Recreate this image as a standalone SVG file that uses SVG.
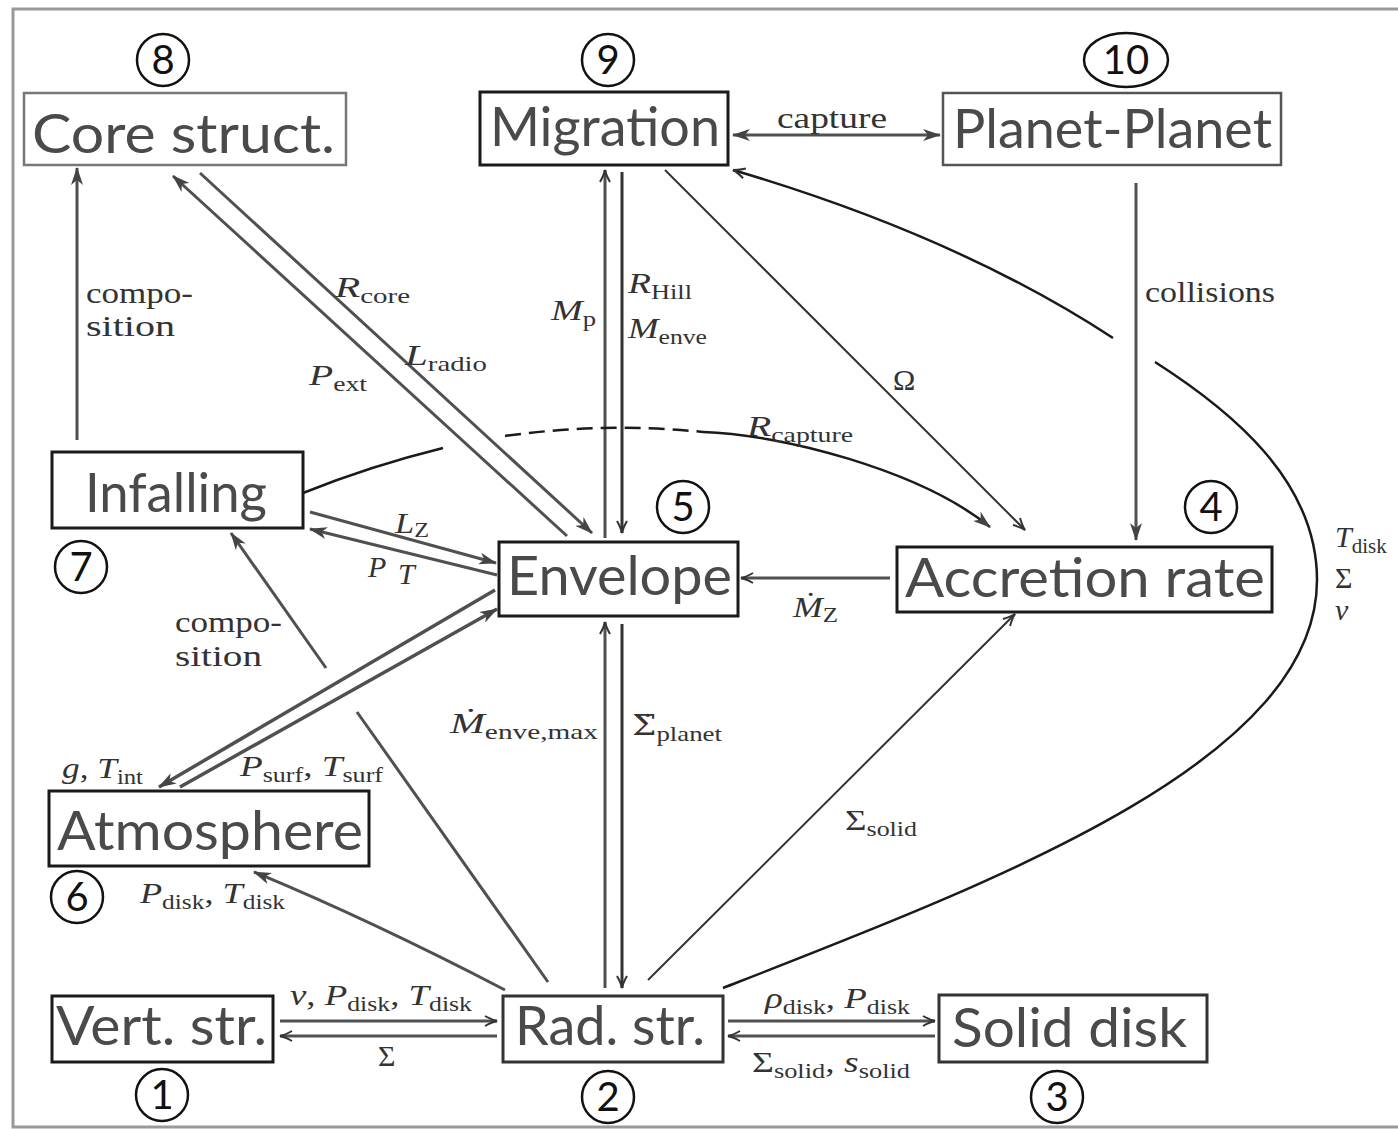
<svg xmlns="http://www.w3.org/2000/svg" width="1398" height="1129" viewBox="0 0 1398 1129">
<style>
.frame{fill:none;stroke:#999;stroke-width:3}
.box{fill:#fff;stroke:#1a1a1a;stroke-width:3}
.lbl{font-family:Lato,"Open Sans","DejaVu Sans",sans-serif;font-size:55px;fill:#4a4a4a}
.num{font-family:Lato,"Open Sans","DejaVu Sans",sans-serif;font-size:40px;fill:#111;text-anchor:middle}
.nc{fill:none;stroke:#111;stroke-width:2.5}
.t{font-family:"Liberation Serif","DejaVu Serif",serif;font-size:30px;fill:#333}
.v{font-style:italic}
.sb{font-size:21px}
.dj{font-family:"DejaVu Serif",serif;font-size:27px}
.ln{fill:none;stroke:#505050;stroke-width:3}
.th{fill:none;stroke:#333;stroke-width:2}
.bk{fill:none;stroke:#1a1a1a;stroke-width:2.5}
</style>
<defs>
<marker id="af" viewBox="0 0 18 12" refX="17" refY="6" markerWidth="18" markerHeight="12" orient="auto-start-reverse" markerUnits="userSpaceOnUse"><path d="M0,0 L18,6 L0,12 L5,6 z" fill="#444"/></marker>
<marker id="ao" viewBox="0 0 14 12" refX="13" refY="6" markerWidth="14" markerHeight="12" orient="auto-start-reverse" markerUnits="userSpaceOnUse"><path d="M1,1 Q8,5 13,6 Q8,7 1,11" fill="none" stroke="#333" stroke-width="2"/></marker>
</defs>
<rect width="1398" height="1129" fill="#fff"/>
<rect class="frame" x="13" y="9" width="1400" height="1118"/>

<g id="connectors">
<path class="ln" d="M77,440 L77,168" marker-end="url(#af)"/>
<path class="ln" d="M567,536 L173,176" marker-end="url(#af)"/>
<path class="ln" d="M200,173 L592,533" marker-end="url(#af)"/>
<path class="ln" d="M605,538 L605,170" marker-end="url(#ao)"/>
<path class="ln" style="stroke:#333" d="M622,172 L622,533" marker-end="url(#ao)"/>
<path class="th" d="M665,170 L1025,530" marker-end="url(#ao)"/>
<path class="ln" d="M733,135 L940,135" marker-start="url(#af)" marker-end="url(#af)"/>
<path class="ln" d="M1136,183 L1136,540" marker-end="url(#af)"/>
<path class="bk" d="M723,988 C1000,880 1317,760 1317,580 C1317,480 1230,410 1155,362"/>
<path class="bk" d="M1113,338 Q957,236 733,170" marker-end="url(#ao)"/>
<path class="bk" d="M303,493 Q370,466 443,448"/>
<path class="bk" style="stroke-dasharray:16 8" d="M505,436 Q605,422 703,432"/>
<path class="bk" d="M703,432 C780,434 920,470 990,527" marker-end="url(#af)"/>
<path class="ln" d="M310,512 L496,563" marker-end="url(#af)"/>
<path class="ln" d="M497,575 L310,529" marker-end="url(#af)"/>
<path class="ln" d="M548,982 L357,712"/>
<path class="ln" d="M326,668 L231,533" marker-end="url(#af)"/>
<path class="ln" style="stroke-width:3.5" d="M495,590 L159,787" marker-end="url(#af)"/>
<path class="ln" style="stroke-width:3.5" d="M180,787 L497,609" marker-end="url(#af)"/>
<path class="ln" d="M505,990 Q370,920 254,872" marker-end="url(#af)"/>
<path class="ln" d="M605,988 L605,622" marker-end="url(#ao)"/>
<path class="ln" style="stroke:#333" d="M622,624 L622,988" marker-end="url(#ao)"/>
<path class="th" d="M648,980 L1015,614" marker-end="url(#ao)"/>
<path class="ln" d="M890,578 L741,578" marker-end="url(#ao)"/>
<path class="ln" d="M280,1021 L497,1021" marker-end="url(#ao)"/>
<path class="ln" d="M497,1036 L280,1036" marker-end="url(#ao)"/>
<path class="ln" d="M728,1021 L935,1021" marker-end="url(#ao)"/>
<path class="ln" d="M935,1036 L728,1036" marker-end="url(#ao)"/>

<text class="t" x="86" y="303" textLength="107" lengthAdjust="spacingAndGlyphs">compo-</text>
<text class="t" x="86" y="336" textLength="89" lengthAdjust="spacingAndGlyphs">sition</text>
<text class="t" x="335" y="297" textLength="75" lengthAdjust="spacingAndGlyphs"><tspan class="v">R</tspan><tspan class="sb" dy="6">core</tspan></text>
<text class="t" x="405" y="365" textLength="82" lengthAdjust="spacingAndGlyphs"><tspan class="v">L</tspan><tspan class="sb" dy="6">radio</tspan></text>
<text class="t" x="309" y="385" textLength="58" lengthAdjust="spacingAndGlyphs"><tspan class="v">P</tspan><tspan class="sb" dy="6">ext</tspan></text>
<text class="t" x="551" y="320" textLength="45" lengthAdjust="spacingAndGlyphs"><tspan class="v">M</tspan><tspan class="sb" dy="6">p</tspan></text>
<text class="t" x="628" y="293" textLength="64" lengthAdjust="spacingAndGlyphs"><tspan class="v">R</tspan><tspan class="sb" dy="6">Hill</tspan></text>
<text class="t" x="628" y="338" textLength="79" lengthAdjust="spacingAndGlyphs"><tspan class="v">M</tspan><tspan class="sb" dy="6">enve</tspan></text>
<text class="t" x="777" y="128" textLength="110" lengthAdjust="spacingAndGlyphs">capture</text>
<text class="t" x="893" y="390">Ω</text>
<text class="t" x="1145" y="302" textLength="130" lengthAdjust="spacingAndGlyphs">collisions</text>
<text class="t" x="747" y="436" textLength="106" lengthAdjust="spacingAndGlyphs"><tspan class="v">R</tspan><tspan class="sb" dy="6">capture</tspan></text>
<text class="t" x="1335" y="547"><tspan class="v">T</tspan><tspan class="sb" dy="6">disk</tspan></text>
<text class="t" x="1335" y="588">Σ</text>
<text class="t v" x="1335" y="620">ν</text>
<text class="t" x="395" y="533" textLength="34" lengthAdjust="spacingAndGlyphs"><tspan class="v">L</tspan><tspan class="sb" dy="4">Z</tspan></text>
<text class="t v" x="368" y="577">P</text>
<text class="t v" x="398" y="584">T</text>
<text class="t" x="175" y="632" textLength="107" lengthAdjust="spacingAndGlyphs">compo-</text>
<text class="t" x="175" y="666" textLength="87" lengthAdjust="spacingAndGlyphs">sition</text>
<text class="t" x="793" y="617" textLength="45" lengthAdjust="spacingAndGlyphs"><tspan class="v">Ṁ</tspan><tspan class="sb" dy="5">Z</tspan></text>
<text class="t" x="450" y="733" textLength="148" lengthAdjust="spacingAndGlyphs"><tspan class="v">Ṁ</tspan><tspan class="sb" dy="6">enve,max</tspan></text>
<text class="t" x="632" y="735" textLength="90" lengthAdjust="spacingAndGlyphs"><tspan class="dj">Σ̇</tspan><tspan class="sb" dy="6">planet</tspan></text>
<text class="t" x="845" y="830" textLength="72" lengthAdjust="spacingAndGlyphs">Σ<tspan class="sb" dy="6">solid</tspan></text>
<text class="t" x="62" y="778" textLength="81" lengthAdjust="spacingAndGlyphs"><tspan class="v">g</tspan>, <tspan class="v">T</tspan><tspan class="sb" dy="6">int</tspan></text>
<text class="t" x="240" y="776" textLength="143" lengthAdjust="spacingAndGlyphs"><tspan class="v">P</tspan><tspan class="sb" dy="6">surf</tspan><tspan dy="-6">, </tspan><tspan class="v">T</tspan><tspan class="sb" dy="6">surf</tspan></text>
<text class="t" x="140" y="903" textLength="145" lengthAdjust="spacingAndGlyphs"><tspan class="v">P</tspan><tspan class="sb" dy="6">disk</tspan><tspan dy="-6">, </tspan><tspan class="v">T</tspan><tspan class="sb" dy="6">disk</tspan></text>
<text class="t" x="290" y="1005" textLength="182" lengthAdjust="spacingAndGlyphs"><tspan class="v">ν</tspan>, <tspan class="v">P</tspan><tspan class="sb" dy="6">disk</tspan><tspan dy="-6">, </tspan><tspan class="v">T</tspan><tspan class="sb" dy="6">disk</tspan></text>
<text class="t" x="378" y="1066">Σ</text>
<text class="t" x="765" y="1008" textLength="145" lengthAdjust="spacingAndGlyphs"><tspan class="v">ρ</tspan><tspan class="sb" dy="6">disk</tspan><tspan dy="-6">, </tspan><tspan class="v">P</tspan><tspan class="sb" dy="6">disk</tspan></text>
<text class="t" x="752" y="1072" textLength="158" lengthAdjust="spacingAndGlyphs">Σ<tspan class="sb" dy="6">solid</tspan><tspan dy="-6">, </tspan><tspan class="v">s</tspan><tspan class="sb" dy="6">solid</tspan></text>
</g>

<g id="n8"><rect class="box" style="stroke:#777;stroke-width:2.5" x="24" y="93" width="322" height="72"/><text class="lbl" x="32" y="153" textLength="303" lengthAdjust="spacingAndGlyphs">Core struct.</text><circle class="nc" cx="163" cy="60" r="26"/><text class="num" x="163" y="74">8</text></g>
<g id="n9"><rect class="box" x="480" y="92" width="248" height="73"/><text class="lbl" x="490" y="146" textLength="230" lengthAdjust="spacingAndGlyphs">Migration</text><circle class="nc" cx="608" cy="60" r="26"/><text class="num" x="608" y="74">9</text></g>
<g id="n10"><rect class="box" style="stroke:#555;stroke-width:2.5" x="943" y="93" width="338" height="72"/><text class="lbl" x="953" y="148" textLength="319" lengthAdjust="spacingAndGlyphs">Planet-Planet</text><ellipse class="nc" cx="1126" cy="60" rx="42" ry="27"/><text class="num" x="1126" y="74">10</text></g>
<g id="n7"><rect class="box" x="52" y="452" width="251" height="76"/><text class="lbl" x="85" y="512" textLength="182" lengthAdjust="spacingAndGlyphs">Infalling</text><circle class="nc" cx="81" cy="567" r="26"/><text class="num" x="81" y="581">7</text></g>
<g id="n5"><rect class="box" x="499" y="542" width="239" height="74"/><text class="lbl" x="507" y="595" textLength="225" lengthAdjust="spacingAndGlyphs">Envelope</text><circle class="nc" cx="683" cy="507" r="26"/><text class="num" x="683" y="521">5</text></g>
<g id="n4"><rect class="box" x="897" y="547" width="375" height="65"/><text class="lbl" x="905" y="597" textLength="360" lengthAdjust="spacingAndGlyphs">Accretion rate</text><circle class="nc" cx="1211" cy="507" r="26"/><text class="num" x="1211" y="521">4</text></g>
<g id="n6"><rect class="box" x="49" y="791" width="320" height="75"/><text class="lbl" x="57" y="850" textLength="306" lengthAdjust="spacingAndGlyphs">Atmosphere</text><circle class="nc" cx="77" cy="897" r="26"/><text class="num" x="77" y="911">6</text></g>
<g id="n1"><rect class="box" x="52" y="996" width="221" height="66"/><text class="lbl" x="56" y="1045" textLength="211" lengthAdjust="spacingAndGlyphs">Vert. str.</text><circle class="nc" cx="162" cy="1095" r="26"/><text class="num" x="162" y="1109">1</text></g>
<g id="n2"><rect class="box" style="stroke:#333" x="503" y="996" width="220" height="66"/><text class="lbl" x="515" y="1045" textLength="190" lengthAdjust="spacingAndGlyphs">Rad. str.</text><circle class="nc" cx="608" cy="1097" r="26"/><text class="num" x="608" y="1111">2</text></g>
<g id="n3"><rect class="box" style="stroke:#333" x="939" y="995" width="268" height="67"/><text class="lbl" x="952" y="1047" textLength="235" lengthAdjust="spacingAndGlyphs">Solid disk</text><circle class="nc" cx="1057" cy="1097" r="26"/><text class="num" x="1057" y="1111">3</text></g>
</svg>
